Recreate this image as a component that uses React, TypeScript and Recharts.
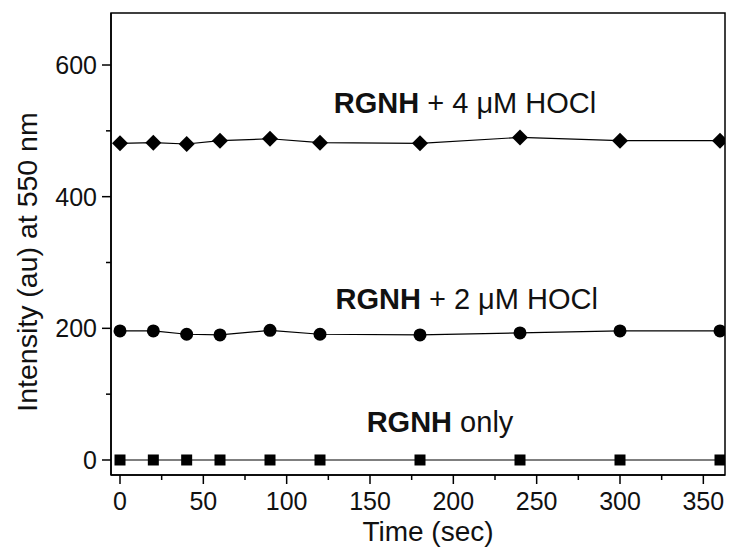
import React from 'react';
import {
  LineChart, Line, XAxis, YAxis, ReferenceArea, ReferenceDot, Label,
} from 'recharts';

// time points (sec)
const times = [0, 20, 40, 60, 90, 120, 180, 240, 300, 360];
// intensity at 550 nm
const rgnhOnly = [0, 0, 0, 0, 0, 0, 0, 0, 0, 0];
const hocl2 = [196, 196, 191, 190, 197, 191, 190, 193, 196, 196];
const hocl4 = [481, 482, 480, 485, 488, 482, 481, 490, 485, 485];

const xTicks = [0, 25, 50, 75, 100, 125, 150, 175, 200, 225, 250, 275, 300, 325, 350];
const yTicks = [0, 100, 200, 300, 400, 500, 600];

const data = times.map((t, i) => ({
  t,
  only: rgnhOnly[i],
  h2: hocl2[i],
  h4: hocl4[i],
}));

const FONT = 'Liberation Sans, Arial, sans-serif';

const XTick = (props: any) => {
  const { x, y, payload } = props;
  const major = payload.value % 50 === 0;
  return (
    <g>
      <line x1={x} x2={x} y1={y} y2={y + (major ? 9 : 5)} stroke="#000" strokeWidth={1.5} />
      {major && (
        <text x={x} y={y + 35} textAnchor="middle" fontSize={25} fontFamily={FONT} fill="#111">
          {payload.value}
        </text>
      )}
    </g>
  );
};

const YTick = (props: any) => {
  const { x, y, payload } = props;
  const major = payload.value % 200 === 0;
  return (
    <g>
      <line x1={x} x2={x - (major ? 9 : 5)} y1={y} y2={y} stroke="#000" strokeWidth={1.5} />
      {major && (
        <text x={x - 14} y={y + 9} textAnchor="end" fontSize={25} fontFamily={FONT} fill="#111">
          {payload.value}
        </text>
      )}
    </g>
  );
};

const Square = (p: any) => (
  <rect key={p.index} x={p.cx - 5.5} y={p.cy - 5.5} width={11} height={11} fill="#000" />
);
const Circle = (p: any) => (
  <circle key={p.index} cx={p.cx} cy={p.cy} r={6.5} fill="#000" />
);
const Diamond = (p: any) => (
  <polygon
    key={p.index}
    points={`${p.cx},${p.cy - 8} ${p.cx + 8},${p.cy} ${p.cx},${p.cy + 8} ${p.cx - 8},${p.cy}`}
    fill="#000"
  />
);

const annot = (bold: string, rest: string) => (props: any) => {
  const vb = props.viewBox;
  return (
    <text x={vb.x} y={vb.y} textAnchor="middle" fontSize={29} fontFamily={FONT} fill="#111">
      <tspan fontWeight="bold">{bold}</tspan>
      {rest}
    </text>
  );
};

export default function App() {
  return (
    <div style={{ position: 'absolute', left: 0, top: 0, background: '#fff' }}>
      <LineChart width={729} height={549} data={data} margin={{ top: 13, right: 4, bottom: 0, left: 0 }}>
        <XAxis
          dataKey="t"
          type="number"
          domain={[-5.4, 363]}
          ticks={xTicks}
          interval={0}
          allowDataOverflow
          height={74}
          tickSize={0}
          tickMargin={0}
          tickLine={false}
          tick={<XTick />}
          axisLine={{ stroke: '#000', strokeWidth: 1.5 }}
        >
          <Label
            content={(p: any) => (
              <text
                x={p.viewBox.x + p.viewBox.width / 2 + 10}
                y={p.viewBox.y + 66}
                textAnchor="middle"
                fontSize={28}
                fontFamily={FONT}
                fill="#111"
              >
                Time (sec)
              </text>
            )}
          />
        </XAxis>
        <YAxis
          type="number"
          domain={[-22.8, 679]}
          ticks={yTicks}
          interval={0}
          allowDataOverflow
          width={111}
          tickSize={0}
          tickMargin={0}
          tickLine={false}
          tick={<YTick />}
          axisLine={{ stroke: '#000', strokeWidth: 1.5 }}
        >
          <Label
            content={(p: any) => {
              const cx = 37;
              const cy = p.viewBox.y + p.viewBox.height / 2 + 18;
              return (
                <text
                  x={cx}
                  y={cy}
                  transform={`rotate(-90 ${cx} ${cy})`}
                  textAnchor="middle"
                  fontSize={28.5}
                  fontFamily={FONT}
                  fill="#111"
                >
                  Intensity (au) at 550 nm
                </text>
              );
            }}
          />
        </YAxis>
        <ReferenceArea y1={-22.8} y2={679} fill="none" stroke="#000" strokeWidth={1.5} ifOverflow="visible" />
        <Line dataKey="only" stroke="#000" strokeWidth={1.2} dot={Square} isAnimationActive={false} />
        <Line dataKey="h2" stroke="#000" strokeWidth={1.2} dot={Circle} isAnimationActive={false} />
        <Line dataKey="h4" stroke="#000" strokeWidth={1.2} dot={Diamond} isAnimationActive={false} />
        <ReferenceDot x={207} y={527} r={0} stroke="none" label={{ content: annot('RGNH', ' + 4 \u03BCM HOCl') }} />
        <ReferenceDot x={208} y={229} r={0} stroke="none" label={{ content: annot('RGNH', ' + 2 \u03BCM HOCl') }} />
        <ReferenceDot x={192} y={42.5} r={0} stroke="none" label={{ content: annot('RGNH', ' only') }} />
      </LineChart>
    </div>
  );
}
